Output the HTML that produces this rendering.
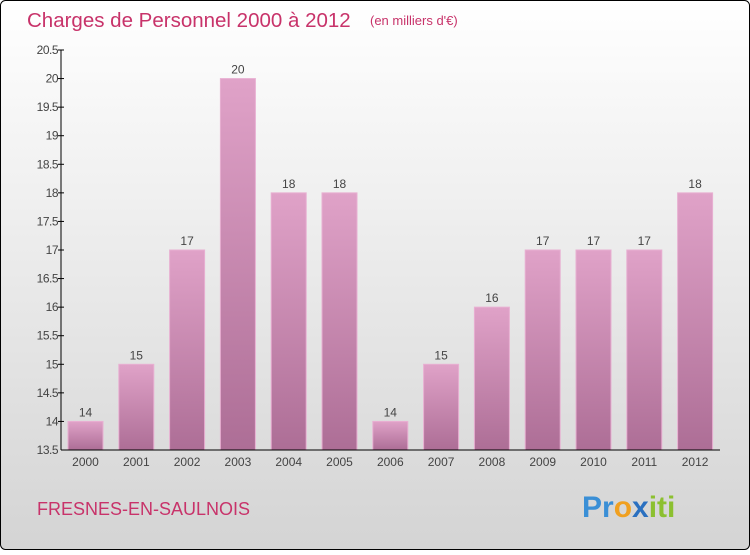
<!DOCTYPE html>
<html><head><style>
body{margin:0;width:750px;height:550px;overflow:hidden;font-family:"Liberation Sans",sans-serif;}
</style></head><body>
<svg width="750" height="550" xmlns="http://www.w3.org/2000/svg" font-family="Liberation Sans, sans-serif">
<defs>
<linearGradient id="bg" x1="0" y1="0" x2="0" y2="1"><stop offset="0" stop-color="#ffffff"/><stop offset="1" stop-color="#d4d4d4"/></linearGradient>
<linearGradient id="bar" x1="0" y1="0" x2="0" y2="1"><stop offset="0" stop-color="#e0a2c8"/><stop offset="1" stop-color="#ad6e96"/></linearGradient>
</defs>
<rect x="0.5" y="0.5" width="749" height="549" rx="5" fill="url(#bg)" stroke="#000"/>
<text x="27" y="27" font-size="20.5" fill="#c8336a">Charges de Personnel 2000 à 2012</text>
<text x="370" y="25" font-size="13" fill="#c8336a">(en milliers d'€)</text>
<g stroke="#e8b0d2" fill="url(#bar)">
<rect x="68" y="421.43" width="35" height="28.57"/>
<rect x="118.8" y="364.29" width="35" height="85.71"/>
<rect x="169.6" y="250" width="35" height="200"/>
<rect x="220.4" y="78.57" width="35" height="371.43"/>
<rect x="271.2" y="192.86" width="35" height="257.14"/>
<rect x="322" y="192.86" width="35" height="257.14"/>
<rect x="372.8" y="421.43" width="35" height="28.57"/>
<rect x="423.6" y="364.29" width="35" height="85.71"/>
<rect x="474.4" y="307.14" width="35" height="142.86"/>
<rect x="525.2" y="250" width="35" height="200"/>
<rect x="576" y="250" width="35" height="200"/>
<rect x="626.8" y="250" width="35" height="200"/>
<rect x="677.6" y="192.86" width="35" height="257.14"/>
</g>
<g font-size="12" fill="#444" text-anchor="middle">
<text x="85.5" y="416.4">14</text>
<text x="136.3" y="359.3">15</text>
<text x="187.1" y="245">17</text>
<text x="237.9" y="73.6">20</text>
<text x="288.7" y="187.9">18</text>
<text x="339.5" y="187.9">18</text>
<text x="390.3" y="416.4">14</text>
<text x="441.1" y="359.3">15</text>
<text x="491.9" y="302.1">16</text>
<text x="542.7" y="245">17</text>
<text x="593.5" y="245">17</text>
<text x="644.3" y="245">17</text>
<text x="695.1" y="187.9">18</text>
<text x="85.5" y="466">2000</text>
<text x="136.3" y="466">2001</text>
<text x="187.1" y="466">2002</text>
<text x="237.9" y="466">2003</text>
<text x="288.7" y="466">2004</text>
<text x="339.5" y="466">2005</text>
<text x="390.3" y="466">2006</text>
<text x="441.1" y="466">2007</text>
<text x="491.9" y="466">2008</text>
<text x="542.7" y="466">2009</text>
<text x="593.5" y="466">2010</text>
<text x="644.3" y="466">2011</text>
<text x="695.1" y="466">2012</text>
</g>
<line x1="61" y1="50" x2="61" y2="450" stroke="#000"/>
<line x1="61" y1="450" x2="720" y2="450" stroke="#000"/>
<g stroke="#000">
<line x1="58" y1="50" x2="64" y2="50"/><line x1="58" y1="78.57" x2="64" y2="78.57"/><line x1="58" y1="107.14" x2="64" y2="107.14"/><line x1="58" y1="135.71" x2="64" y2="135.71"/><line x1="58" y1="164.29" x2="64" y2="164.29"/><line x1="58" y1="192.86" x2="64" y2="192.86"/><line x1="58" y1="221.43" x2="64" y2="221.43"/><line x1="58" y1="250" x2="64" y2="250"/><line x1="58" y1="278.57" x2="64" y2="278.57"/><line x1="58" y1="307.14" x2="64" y2="307.14"/><line x1="58" y1="335.71" x2="64" y2="335.71"/><line x1="58" y1="364.29" x2="64" y2="364.29"/><line x1="58" y1="392.86" x2="64" y2="392.86"/><line x1="58" y1="421.43" x2="64" y2="421.43"/>
</g>
<g font-size="12" fill="#444" text-anchor="end" letter-spacing="-0.5">
<text x="58" y="54">20.5</text><text x="58" y="82.6">20</text><text x="58" y="111.1">19.5</text><text x="58" y="139.7">19</text><text x="58" y="168.3">18.5</text><text x="58" y="196.9">18</text><text x="58" y="225.4">17.5</text><text x="58" y="254">17</text><text x="58" y="282.6">16.5</text><text x="58" y="311.1">16</text><text x="58" y="339.7">15.5</text><text x="58" y="368.3">15</text><text x="58" y="396.9">14.5</text><text x="58" y="425.4">14</text><text x="58" y="454">13.5</text>
</g>
<text x="37" y="515" font-size="18" fill="#c8336a">FRESNES-EN-SAULNOIS</text>
<text x="582" y="517" font-size="30" font-weight="bold"><tspan fill="#3a8fd6">Pr</tspan><tspan fill="#f0a020">o</tspan><tspan fill="#2a70c0">x</tspan><tspan fill="#8cc030">iti</tspan></text>
</svg>
</body></html>
